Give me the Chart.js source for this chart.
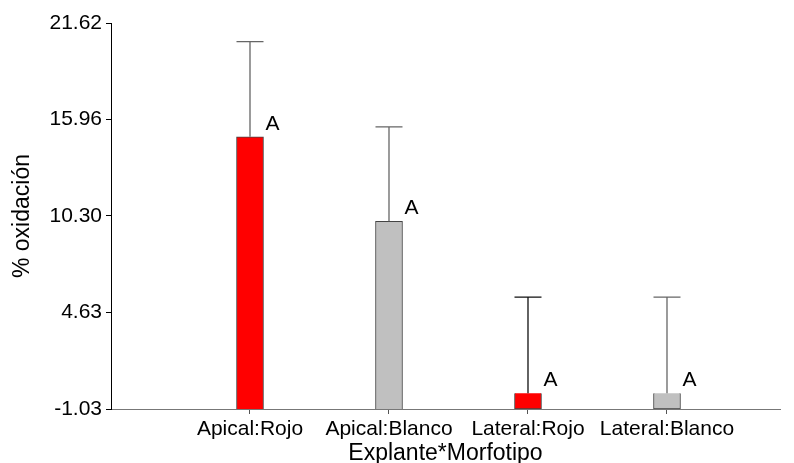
<!DOCTYPE html>
<html>
<head>
<meta charset="utf-8">
<script src="https://cdn.jsdelivr.net/npm/chart.js@4/dist/chart.umd.min.js"></script>
<style>
  html, body { margin: 0; padding: 0; background: #fff; }
  #grafico { display: block; }
</style>
</head>
<body>
<canvas id="grafico" width="794" height="463"></canvas>
<script>
const categorias = ['Apical:Rojo', 'Apical:Blanco', 'Lateral:Rojo', 'Lateral:Blanco']
const medias = [14.94, 9.98, -0.10, -0.10]
const limiteSup = [20.53, 15.53, 5.54, 5.54]
const letras = ['A', 'A', 'A', 'A']
const colores = ['#ff0000', '#c0c0c0', '#ff0000', '#c0c0c0']
const ticksY = [-1.03, 4.63, 10.30, 15.96, 21.62]

const yMin = ticksY[0]
const yMax = ticksY[ticksY.length - 1]
const fuente = "'Liberation Sans', Arial, sans-serif"

// barras de error (solo la parte superior) y letras de significancia
const errorBars = {
  id: 'errorBars',
  afterDatasetsDraw (chart) {
    const { ctx, scales: { x, y } } = chart
    const meta = chart.getDatasetMeta(0)
    ctx.save()
    meta.data.forEach((bar, i) => {
      const cx = x.getPixelForValue(i + 1)
      const top = y.getPixelForValue(medias[i])
      const sup = y.getPixelForValue(limiteSup[i])
      const half = bar.width / 2
      ctx.strokeStyle = i === 2 ? '#111' : '#666'
      ctx.lineWidth = 1.3
      ctx.beginPath()
      ctx.moveTo(cx, top)
      ctx.lineTo(cx, sup)
      ctx.moveTo(cx - half, sup)
      ctx.lineTo(cx + half, sup)
      ctx.stroke()

      ctx.fillStyle = '#000'
      ctx.font = '21px ' + fuente
      ctx.textAlign = 'left'
      ctx.textBaseline = 'alphabetic'
      ctx.fillText(letras[i], cx + half + 2, top - 7)
    })
    ctx.restore()
  }
}

const ctx = document.querySelector('#grafico')
const myChart = new Chart(ctx, {
  type: 'bar',
  data: {
    datasets: [{
      data: medias.map((v, i) => ({ x: i + 1, y: [yMin, v] })),
      backgroundColor: colores,
      borderColor: '#444',
      borderWidth: 1,
      barThickness: 27
    }]
  },
  options: {
    responsive: false,
    animation: false,
    layout: { padding: { top: 23, right: 14, bottom: 0, left: 0 } },
    plugins: {
      legend: { display: false },
      tooltip: { enabled: false }
    },
    scales: {
      x: {
        type: 'linear',
        min: 0,
        max: 4.813,
        offset: false,
        afterBuildTicks: scale => {
          scale.ticks = categorias.map((c, i) => ({ value: i + 1 }))
        },
        afterFit: scale => { scale.height = 54 },
        ticks: {
          color: '#000',
          font: { family: fuente, size: 21 },
          padding: 3,
          maxRotation: 0,
          autoSkip: false,
          callback: v => categorias[v - 1]
        },
        grid: { drawOnChartArea: false, offset: false, tickLength: 5, color: '#555' },
        border: { color: '#777' },
        title: {
          display: true,
          text: 'Explante*Morfotipo',
          color: '#000',
          font: { family: fuente, size: 23 },
          padding: { top: 0, bottom: -4 }
        }
      },
      y: {
        min: yMin,
        max: yMax,
        afterBuildTicks: scale => {
          scale.ticks = ticksY.map(v => ({ value: v }))
        },
        afterFit: scale => { scale.width = 111 },
        ticks: {
          color: '#000',
          font: { family: fuente, size: 21 },
          padding: 4,
          callback: v => v.toFixed(2)
        },
        grid: { drawOnChartArea: false, tickLength: 5, color: '#000' },
        border: { color: '#000' },
        title: {
          display: true,
          text: '% oxidación',
          color: '#000',
          font: { family: fuente, size: 23 },
          padding: { top: 9, bottom: 0 }
        }
      }
    }
  },
  plugins: [errorBars]
})
</script>
</body>
</html>
